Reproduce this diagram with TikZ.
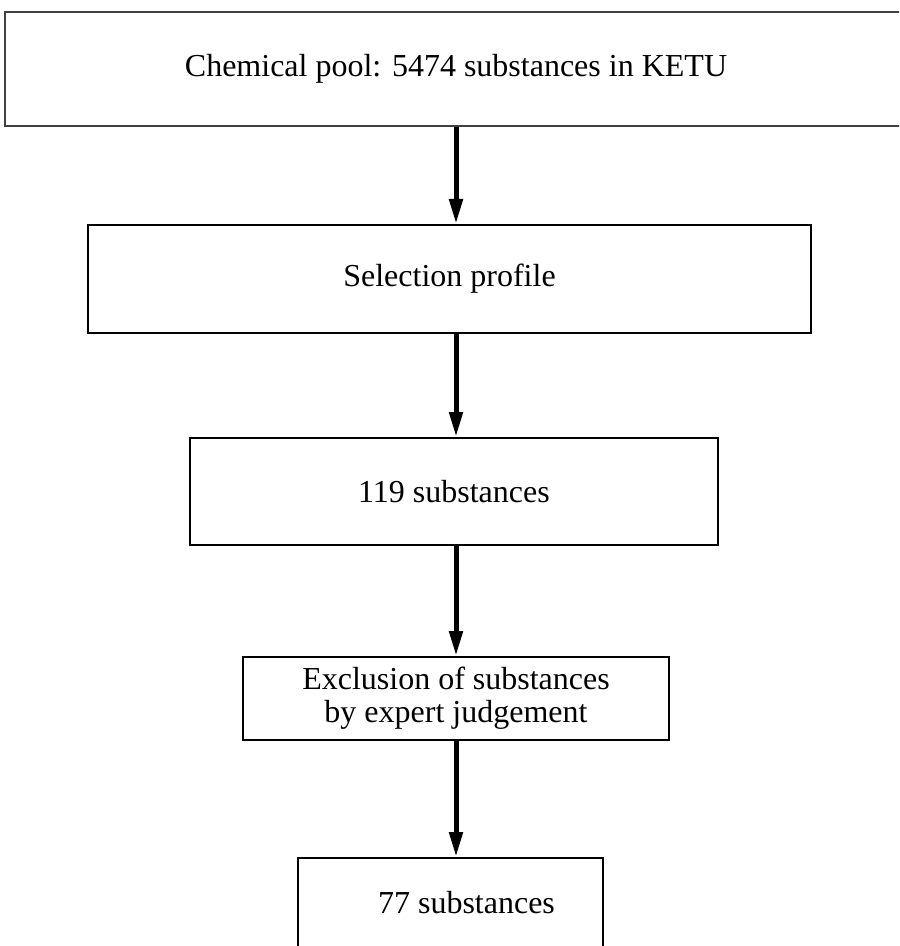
\documentclass[tikz,border=0pt]{standalone}
\usepackage{fontspec}
\setmainfont{Liberation Serif}
\usetikzlibrary{positioning,arrows.meta}

\begin{document}
\begin{tikzpicture}[node distance=105pt,on grid,
	box/.style={draw,line width=1pt,font=\fontsize{16}{16.5}\selectfont,align=center,inner sep=0pt},
	flow/.style={line width=2.5pt,-{Triangle[width=6.5pt,length=12.5pt]}}]
	\clip (0,0) rectangle (449.5pt,-473pt);

	\node[box,draw=black!75,line width=0.6pt,minimum width=451pt,minimum height=57pt] (pool) at (228pt,-34.5pt) {Chemical pool: 5474 substances in KETU};
	\node[box,minimum width=361.5pt,minimum height=54pt] (profile) [below=105pt of pool,xshift=-3.25pt] {Selection profile};
	\node[box,minimum width=264pt,minimum height=53.5pt] (sub119) [below=106.25pt of profile,xshift=2.25pt] {119 substances};
	\node[box,minimum width=213pt,minimum height=41.5pt] (expert) [below=103.5pt of sub119,xshift=1pt] {Exclusion of substances\\by expert judgement};
	\node[box,minimum width=152.5pt,minimum height=45pt] (sub77) [below=102.25pt of expert,xshift=-2.75pt] {\hspace*{16pt}77 substances};

	\draw[flow] (pool.south) -- (pool.south |- profile.north);
	\draw[flow] (profile.south -| pool) -- (sub119.north -| pool);
	\draw[flow] (sub119.south -| pool) -- (expert.north -| pool);
	\draw[flow] (expert.south -| pool) -- (sub77.north -| pool);
\end{tikzpicture}
\end{document}
